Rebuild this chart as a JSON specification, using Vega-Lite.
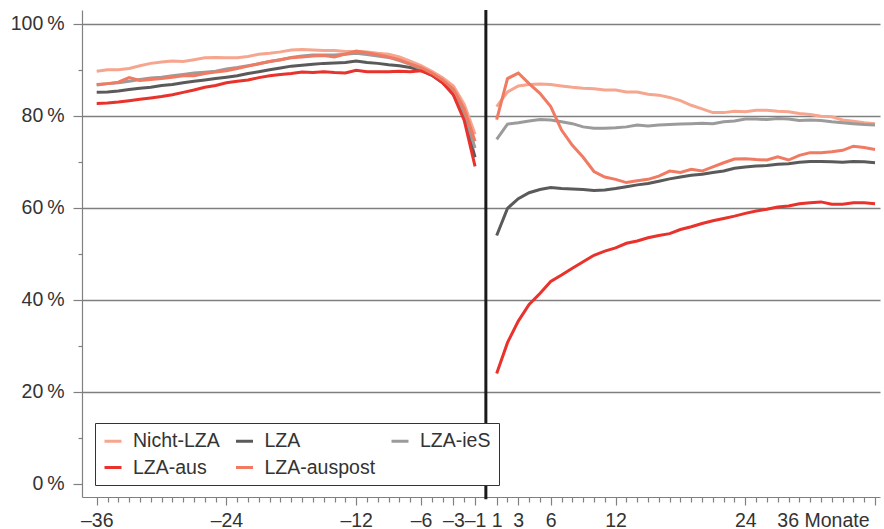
{
  "$schema": "https://vega.github.io/schema/vega-lite/v6.json",
  "width": 798,
  "height": 487,
  "autosize": {"type": "none"},
  "padding": {"left": 82, "top": 10, "right": 4, "bottom": 32},
  "background": "white",
  "config": {"view": {"stroke": null}, "font": "Liberation Sans"},
  "data": {"values": [
    {"Monat": -36, "Nicht-LZA": 89.7, "LZA": 85.1, "LZA-ieS": 86.7, "LZA-aus": 82.7, "LZA-auspost": 86.8},
    {"Monat": -35, "Nicht-LZA": 90.0, "LZA": 85.2, "LZA-ieS": 87.0, "LZA-aus": 82.8, "LZA-auspost": 87.0},
    {"Monat": -34, "Nicht-LZA": 90.0, "LZA": 85.4, "LZA-ieS": 87.2, "LZA-aus": 83.0, "LZA-auspost": 87.3},
    {"Monat": -33, "Nicht-LZA": 90.3, "LZA": 85.7, "LZA-ieS": 87.5, "LZA-aus": 83.3, "LZA-auspost": 88.3},
    {"Monat": -32, "Nicht-LZA": 90.9, "LZA": 86.0, "LZA-ieS": 87.9, "LZA-aus": 83.6, "LZA-auspost": 87.7},
    {"Monat": -31, "Nicht-LZA": 91.4, "LZA": 86.2, "LZA-ieS": 88.2, "LZA-aus": 83.9, "LZA-auspost": 87.9},
    {"Monat": -30, "Nicht-LZA": 91.7, "LZA": 86.6, "LZA-ieS": 88.4, "LZA-aus": 84.2, "LZA-auspost": 88.1},
    {"Monat": -29, "Nicht-LZA": 91.9, "LZA": 86.8, "LZA-ieS": 88.7, "LZA-aus": 84.6, "LZA-auspost": 88.4},
    {"Monat": -28, "Nicht-LZA": 91.8, "LZA": 87.2, "LZA-ieS": 89.0, "LZA-aus": 85.1, "LZA-auspost": 88.7},
    {"Monat": -27, "Nicht-LZA": 92.2, "LZA": 87.5, "LZA-ieS": 89.3, "LZA-aus": 85.6, "LZA-auspost": 88.7},
    {"Monat": -26, "Nicht-LZA": 92.6, "LZA": 87.8, "LZA-ieS": 89.5, "LZA-aus": 86.2, "LZA-auspost": 89.2},
    {"Monat": -25, "Nicht-LZA": 92.7, "LZA": 88.1, "LZA-ieS": 89.7, "LZA-aus": 86.6, "LZA-auspost": 89.5},
    {"Monat": -24, "Nicht-LZA": 92.6, "LZA": 88.4, "LZA-ieS": 90.2, "LZA-aus": 87.2, "LZA-auspost": 89.8},
    {"Monat": -23, "Nicht-LZA": 92.6, "LZA": 88.7, "LZA-ieS": 90.5, "LZA-aus": 87.5, "LZA-auspost": 90.3},
    {"Monat": -22, "Nicht-LZA": 92.9, "LZA": 89.2, "LZA-ieS": 90.9, "LZA-aus": 87.8, "LZA-auspost": 90.8},
    {"Monat": -21, "Nicht-LZA": 93.4, "LZA": 89.6, "LZA-ieS": 91.3, "LZA-aus": 88.3, "LZA-auspost": 91.3},
    {"Monat": -20, "Nicht-LZA": 93.6, "LZA": 90.0, "LZA-ieS": 91.8, "LZA-aus": 88.7, "LZA-auspost": 91.8},
    {"Monat": -19, "Nicht-LZA": 93.9, "LZA": 90.4, "LZA-ieS": 92.2, "LZA-aus": 89.0, "LZA-auspost": 92.2},
    {"Monat": -18, "Nicht-LZA": 94.3, "LZA": 90.8, "LZA-ieS": 92.7, "LZA-aus": 89.2, "LZA-auspost": 92.6},
    {"Monat": -17, "Nicht-LZA": 94.4, "LZA": 91.0, "LZA-ieS": 93.0, "LZA-aus": 89.5, "LZA-auspost": 92.8},
    {"Monat": -16, "Nicht-LZA": 94.3, "LZA": 91.2, "LZA-ieS": 93.2, "LZA-aus": 89.4, "LZA-auspost": 93.0},
    {"Monat": -15, "Nicht-LZA": 94.2, "LZA": 91.4, "LZA-ieS": 93.2, "LZA-aus": 89.6, "LZA-auspost": 93.1},
    {"Monat": -14, "Nicht-LZA": 94.2, "LZA": 91.5, "LZA-ieS": 93.2, "LZA-aus": 89.4, "LZA-auspost": 92.8},
    {"Monat": -13, "Nicht-LZA": 94.0, "LZA": 91.6, "LZA-ieS": 93.4, "LZA-aus": 89.3, "LZA-auspost": 93.4},
    {"Monat": -12, "Nicht-LZA": 94.0, "LZA": 91.9, "LZA-ieS": 93.6, "LZA-aus": 89.9, "LZA-auspost": 94.1},
    {"Monat": -11, "Nicht-LZA": 93.9, "LZA": 91.6, "LZA-ieS": 93.3, "LZA-aus": 89.6, "LZA-auspost": 93.7},
    {"Monat": -10, "Nicht-LZA": 93.6, "LZA": 91.4, "LZA-ieS": 93.0, "LZA-aus": 89.6, "LZA-auspost": 93.3},
    {"Monat": -9, "Nicht-LZA": 93.4, "LZA": 91.1, "LZA-ieS": 92.7, "LZA-aus": 89.6, "LZA-auspost": 92.8},
    {"Monat": -8, "Nicht-LZA": 92.8, "LZA": 90.9, "LZA-ieS": 92.0, "LZA-aus": 89.7, "LZA-auspost": 92.2},
    {"Monat": -7, "Nicht-LZA": 91.9, "LZA": 90.5, "LZA-ieS": 91.2, "LZA-aus": 89.6, "LZA-auspost": 91.3},
    {"Monat": -6, "Nicht-LZA": 90.9, "LZA": 89.9, "LZA-ieS": 90.2, "LZA-aus": 89.8, "LZA-auspost": 90.5},
    {"Monat": -5, "Nicht-LZA": 89.7, "LZA": 88.8, "LZA-ieS": 89.0, "LZA-aus": 88.9, "LZA-auspost": 89.3},
    {"Monat": -4, "Nicht-LZA": 88.3, "LZA": 87.2, "LZA-ieS": 87.5, "LZA-aus": 87.2, "LZA-auspost": 87.8},
    {"Monat": -3, "Nicht-LZA": 86.5, "LZA": 84.8, "LZA-ieS": 85.3, "LZA-aus": 84.5, "LZA-auspost": 85.8},
    {"Monat": -2, "Nicht-LZA": 82.5, "LZA": 79.5, "LZA-ieS": 80.5, "LZA-aus": 79.0, "LZA-auspost": 81.5},
    {"Monat": -1, "Nicht-LZA": 76.0, "LZA": 71.0, "LZA-ieS": 73.0, "LZA-aus": 69.0, "LZA-auspost": 74.5},
    {"Monat": 1, "Nicht-LZA": 82.0, "LZA": 54.0, "LZA-ieS": 74.9, "LZA-aus": 24.0, "LZA-auspost": 79.2},
    {"Monat": 2, "Nicht-LZA": 85.2, "LZA": 59.9, "LZA-ieS": 78.2, "LZA-aus": 30.7, "LZA-auspost": 88.1},
    {"Monat": 3, "Nicht-LZA": 86.5, "LZA": 62.0, "LZA-ieS": 78.5, "LZA-aus": 35.4, "LZA-auspost": 89.3},
    {"Monat": 4, "Nicht-LZA": 86.8, "LZA": 63.3, "LZA-ieS": 78.9, "LZA-aus": 39.0, "LZA-auspost": 87.0},
    {"Monat": 5, "Nicht-LZA": 86.9, "LZA": 64.0, "LZA-ieS": 79.2, "LZA-aus": 41.4, "LZA-auspost": 84.9},
    {"Monat": 6, "Nicht-LZA": 86.8, "LZA": 64.4, "LZA-ieS": 79.1, "LZA-aus": 44.0, "LZA-auspost": 82.0},
    {"Monat": 7, "Nicht-LZA": 86.5, "LZA": 64.2, "LZA-ieS": 78.7, "LZA-aus": 45.4, "LZA-auspost": 76.9},
    {"Monat": 8, "Nicht-LZA": 86.2, "LZA": 64.1, "LZA-ieS": 78.3, "LZA-aus": 46.9, "LZA-auspost": 73.6},
    {"Monat": 9, "Nicht-LZA": 86.0, "LZA": 64.0, "LZA-ieS": 77.6, "LZA-aus": 48.3, "LZA-auspost": 71.0},
    {"Monat": 10, "Nicht-LZA": 85.9, "LZA": 63.8, "LZA-ieS": 77.3, "LZA-aus": 49.7, "LZA-auspost": 67.9},
    {"Monat": 11, "Nicht-LZA": 85.6, "LZA": 63.9, "LZA-ieS": 77.3, "LZA-aus": 50.6, "LZA-auspost": 66.7},
    {"Monat": 12, "Nicht-LZA": 85.6, "LZA": 64.2, "LZA-ieS": 77.4, "LZA-aus": 51.3, "LZA-auspost": 66.2},
    {"Monat": 13, "Nicht-LZA": 85.2, "LZA": 64.6, "LZA-ieS": 77.6, "LZA-aus": 52.3, "LZA-auspost": 65.5},
    {"Monat": 14, "Nicht-LZA": 85.2, "LZA": 65.0, "LZA-ieS": 78.0, "LZA-aus": 52.8, "LZA-auspost": 65.9},
    {"Monat": 15, "Nicht-LZA": 84.7, "LZA": 65.3, "LZA-ieS": 77.8, "LZA-aus": 53.5, "LZA-auspost": 66.2},
    {"Monat": 16, "Nicht-LZA": 84.5, "LZA": 65.8, "LZA-ieS": 78.0, "LZA-aus": 54.0, "LZA-auspost": 66.9},
    {"Monat": 17, "Nicht-LZA": 84.0, "LZA": 66.3, "LZA-ieS": 78.1, "LZA-aus": 54.4, "LZA-auspost": 68.0},
    {"Monat": 18, "Nicht-LZA": 83.3, "LZA": 66.7, "LZA-ieS": 78.2, "LZA-aus": 55.3, "LZA-auspost": 67.7},
    {"Monat": 19, "Nicht-LZA": 82.3, "LZA": 67.1, "LZA-ieS": 78.3, "LZA-aus": 55.9, "LZA-auspost": 68.4},
    {"Monat": 20, "Nicht-LZA": 81.5, "LZA": 67.3, "LZA-ieS": 78.4, "LZA-aus": 56.6, "LZA-auspost": 68.0},
    {"Monat": 21, "Nicht-LZA": 80.7, "LZA": 67.7, "LZA-ieS": 78.3, "LZA-aus": 57.2, "LZA-auspost": 68.9},
    {"Monat": 22, "Nicht-LZA": 80.7, "LZA": 68.0, "LZA-ieS": 78.7, "LZA-aus": 57.7, "LZA-auspost": 69.8},
    {"Monat": 23, "Nicht-LZA": 81.0, "LZA": 68.6, "LZA-ieS": 78.9, "LZA-aus": 58.2, "LZA-auspost": 70.6},
    {"Monat": 24, "Nicht-LZA": 80.9, "LZA": 68.9, "LZA-ieS": 79.3, "LZA-aus": 58.8, "LZA-auspost": 70.7},
    {"Monat": 25, "Nicht-LZA": 81.2, "LZA": 69.1, "LZA-ieS": 79.3, "LZA-aus": 59.3, "LZA-auspost": 70.5},
    {"Monat": 26, "Nicht-LZA": 81.2, "LZA": 69.2, "LZA-ieS": 79.2, "LZA-aus": 59.7, "LZA-auspost": 70.4},
    {"Monat": 27, "Nicht-LZA": 81.0, "LZA": 69.5, "LZA-ieS": 79.4, "LZA-aus": 60.2, "LZA-auspost": 71.1},
    {"Monat": 28, "Nicht-LZA": 80.9, "LZA": 69.6, "LZA-ieS": 79.3, "LZA-aus": 60.4, "LZA-auspost": 70.4},
    {"Monat": 29, "Nicht-LZA": 80.5, "LZA": 69.9, "LZA-ieS": 79.0, "LZA-aus": 60.9, "LZA-auspost": 71.4},
    {"Monat": 30, "Nicht-LZA": 80.3, "LZA": 70.1, "LZA-ieS": 79.1, "LZA-aus": 61.1, "LZA-auspost": 72.0},
    {"Monat": 31, "Nicht-LZA": 79.9, "LZA": 70.1, "LZA-ieS": 79.0, "LZA-aus": 61.3, "LZA-auspost": 72.0},
    {"Monat": 32, "Nicht-LZA": 79.8, "LZA": 70.0, "LZA-ieS": 78.7, "LZA-aus": 60.8, "LZA-auspost": 72.2},
    {"Monat": 33, "Nicht-LZA": 79.1, "LZA": 69.9, "LZA-ieS": 78.5, "LZA-aus": 60.8, "LZA-auspost": 72.5},
    {"Monat": 34, "Nicht-LZA": 78.8, "LZA": 70.1, "LZA-ieS": 78.3, "LZA-aus": 61.1, "LZA-auspost": 73.4},
    {"Monat": 35, "Nicht-LZA": 78.5, "LZA": 70.0, "LZA-ieS": 78.1, "LZA-aus": 61.1, "LZA-auspost": 73.1},
    {"Monat": 36, "Nicht-LZA": 78.3, "LZA": 69.8, "LZA-ieS": 78.0, "LZA-aus": 60.9, "LZA-auspost": 72.7}
  ]},
  "transform": [{"fold": ["Nicht-LZA", "LZA", "LZA-ieS", "LZA-aus", "LZA-auspost"], "as": ["Reihe", "Wert"]}],
  "encoding": {
    "x": {
      "field": "Monat", "type": "quantitative",
      "scale": {"domain": [-37.36, 36.46], "nice": false, "zero": false},
      "axis": {
        "title": null,
        "values": [-36,-35,-34,-33,-32,-31,-30,-29,-28,-27,-26,-25,-24,-23,-22,-21,-20,-19,-18,-17,-16,-15,-14,-13,-12,-11,-10,-9,-8,-7,-6,-5,-4,-3,-2,-1,1,2,3,4,5,6,7,8,9,10,11,12,13,14,15,16,17,18,19,20,21,22,23,24,25,26,27,28,29,30,31,32,33,34,35,36],
        "labelExpr": "datum.value === 36 ? '36 Monate' : (indexof([-36,-24,-12,-6,-3,-1,1,3,6,12,24], datum.value) >= 0 ? (datum.value < 0 ? '\u2013' + abs(datum.value) : '' + datum.value) : '')",
        "tickSize": {"condition": {"test": "indexof([-36,-24,-12,-6,-3,-1,1,3,6,12,24,36], datum.value) >= 0", "value": 8}, "value": 5},
        "labelAlign": {"condition": {"test": "datum.value === 36", "value": "right"}, "value": "center"},
        "labelOffset": {"condition": {"test": "datum.value === 36", "value": -6}, "value": 0},
        "labelOverlap": false, "labelFlush": false, "labelBound": false,
        "labelFontSize": 19.5, "labelColor": "#333333", "labelPadding": 6,
        "domainColor": "#808080", "tickColor": "#808080", "domainWidth": 1.2, "tickWidth": 1.2,
        "grid": false
      }
    },
    "y": {
      "field": "Wert", "type": "quantitative",
      "scale": {"domain": [-2.83, 103], "nice": false, "zero": false},
      "axis": {
        "title": null,
        "values": [0,10,20,30,40,50,60,70,80,90,100],
        "labelExpr": "datum.value % 20 === 0 ? datum.value + '\u2009%' : ''",
        "tickSize": {"condition": {"test": "datum.value % 20 === 0", "value": 9}, "value": 4},
        "grid": true,
        "gridOpacity": {"condition": {"test": "datum.value % 20 === 0 && datum.value > 0", "value": 1}, "value": 0},
        "gridColor": "#7f7f7f", "gridWidth": 1.3,
        "labelFontSize": 19.5, "labelColor": "#333333", "labelPadding": 9,
        "domainColor": "#808080", "tickColor": "#808080", "domainWidth": 1.2, "tickWidth": 1.2
      }
    },
    "color": {
      "field": "Reihe", "type": "nominal",
      "scale": {
        "domain": ["Nicht-LZA", "LZA-aus", "LZA", "LZA-auspost", "LZA-ieS"],
        "range": ["#f6a58e", "#e8322b", "#5a5a5a", "#f07a62", "#9b9b9b"]
      },
      "legend": {
        "title": null, "orient": "none", "legendX": 13, "legendY": 413,
        "columns": 3, "columnPadding": 9.5, "rowPadding": 6.5,
        "padding": 8, "strokeColor": "#333333", "fillColor": "white",
        "symbolType": "stroke", "symbolSize": 289, "symbolStrokeWidth": 3,
        "labelFontSize": 19.5, "labelColor": "#333333", "labelOffset": 10,
        "labelFont": "Liberation Sans"
      }
    }
  },
  "layer": [
    {"transform": [{"filter": "datum.Monat < 0"}], "mark": {"type": "line", "strokeWidth": 3}},
    {"transform": [{"filter": "datum.Monat > 0"}], "mark": {"type": "line", "strokeWidth": 3}},
    {
      "transform": [{"filter": "datum.Monat === 1 && datum.Reihe === 'LZA'"}],
      "mark": {"type": "rule", "strokeWidth": 3, "color": "#1a1a1a"},
      "encoding": {
        "x": {"datum": 0},
        "y": {"datum": 103},
        "y2": {"datum": -3.3},
        "color": {"value": "#1a1a1a"}
      }
    }
  ]
}
